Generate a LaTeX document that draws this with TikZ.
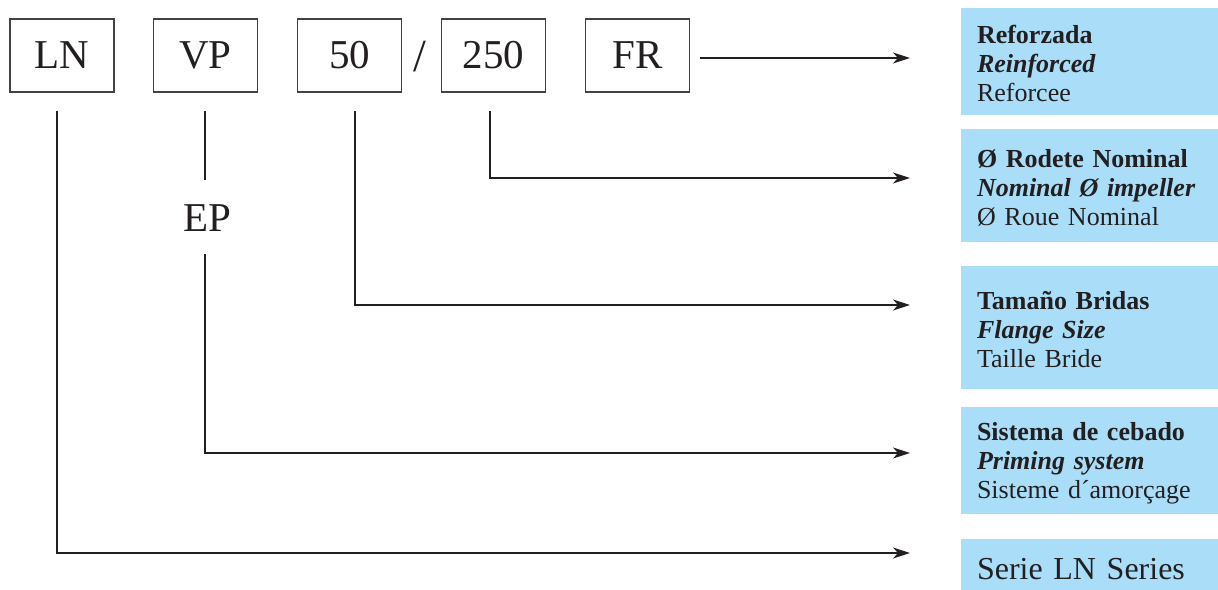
\documentclass[tikz,border=0pt]{standalone}
\usepackage{fontspec}
\setmainfont{Liberation Serif}
\usetikzlibrary{arrows.meta}
\definecolor{infoblue}{RGB}{170,222,248}
\definecolor{ink}{RGB}{35,31,32}
\newcommand{\topstrut}{\rule{0pt}{23pt}}
\begin{document}
\begin{tikzpicture}[x=1pt,y=-1pt,
  codebox/.style={draw=ink!85,line width=1.4pt,minimum width=104pt,minimum height=73pt,inner sep=0pt,font=\fontsize{41}{41}\selectfont,text=ink},
  infobox/.style={fill=infoblue,minimum width=257pt,inner xsep=16pt,inner ysep=0pt,text width=225pt,align=left,font=\fontsize{26}{29}\selectfont,text=ink},
  link/.style={draw=ink,line width=1.2pt},
  arr/.style={link,-{Stealth[length=17pt,width=11pt,inset=5pt]}}]
\useasboundingbox (0,0) rectangle (1218,589);
% code boxes
\node[codebox] (ln) at (62,55.5) {LN};
\node[codebox] (vp) at (205.5,55.5) {VP};
\node[codebox] (s50) at (349.5,55.5) {50};
\node[codebox] (s250) at (493.5,55.5) {250};
\node[codebox] (fr) at (637.5,55.5) {FR};
\node[font=\fontsize{46}{46}\selectfont,text=ink] (slash) at (420,57) {/};
\node[font=\fontsize{41}{41}\selectfont,text=ink] (ep) at (207,218) {EP};
% info boxes
\node[infobox,minimum height=107pt] (r1) at (1089.5,61.5) {\topstrut\textbf{Reforzada}\\\textbf{\itshape Reinforced}\\Reforcee};
\node[infobox,minimum height=113pt] (r2) at (1089.5,185.5) {\topstrut\textbf{Ø Rodete Nominal}\\\textbf{\itshape Nominal Ø impeller}\\Ø Roue Nominal};
\node[infobox,minimum height=123pt] (r3) at (1089.5,327.5) {\topstrut\textbf{Tamaño Bridas}\\\textbf{\itshape Flange Size}\\Taille Bride};
\node[infobox,minimum height=107pt] (r4) at (1089.5,460.5) {\topstrut\textbf{Sistema de cebado}\\\textbf{\itshape Priming system}\\Sisteme d´amorçage};
\node[infobox,minimum height=60pt,font=\fontsize{32}{32}\selectfont] (r5) at (1089.5,569) {Serie LN Series};
% connector coordinates
\coordinate (a1) at (700,58);
\coordinate (t1) at (910,58);
\coordinate (b250) at (490,111);
\coordinate (t2) at (910,178);
\coordinate (b50) at (355,111);
\coordinate (t3) at (910,305);
\coordinate (bvp) at (205,111);
\coordinate (e1) at (205,180);
\coordinate (e2) at (205,254);
\coordinate (t4) at (910,453);
\coordinate (bln) at (57,111);
\coordinate (t5) at (910,553);
% connectors
\draw[arr] (a1) -- (t1);
\draw[arr] (b250) |- (t2);
\draw[arr] (b50) |- (t3);
\draw[link] (bvp) -- (e1);
\draw[arr] (e2) |- (t4);
\draw[arr] (bln) |- (t5);
\end{tikzpicture}
\end{document}
